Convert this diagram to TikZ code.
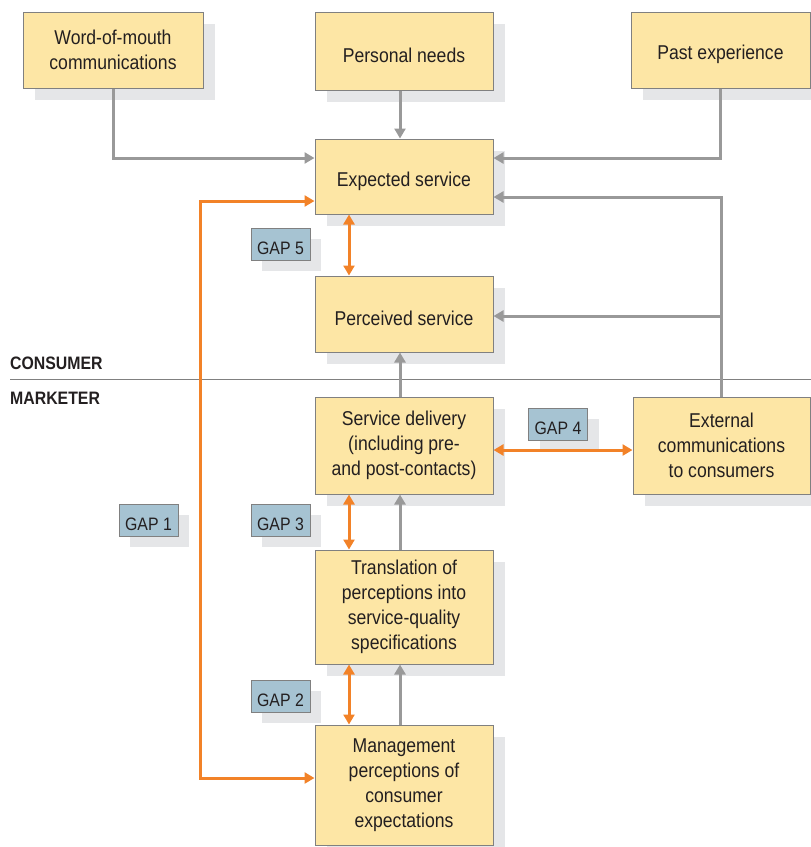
\documentclass[tikz,border=0pt]{standalone}
\usepackage{fontspec}
\setmainfont[FakeStretch=0.88]{Liberation Sans}
\usetikzlibrary{arrows.meta,calc,shadows}
\definecolor{boxfill}{RGB}{253,230,165}
\definecolor{boxline}{RGB}{128,128,128}
\definecolor{gapfill}{RGB}{166,195,210}
\definecolor{shadowc}{RGB}{229,230,232}
\definecolor{arrowgray}{RGB}{153,153,153}
\definecolor{orange1}{RGB}{242,130,40}
\definecolor{txt}{RGB}{35,31,32}
\begin{document}
\begin{tikzpicture}[x=1pt,y=-1pt,
  box/.style={draw=boxline, line width=1pt, fill=boxfill, text=txt, align=center,
    font=\fontsize{20}{25}\selectfont, inner sep=0pt,
    execute at begin node={\rule{0pt}{24pt}},
    general shadow={fill=shadowc, shadow xshift=12pt, shadow yshift=-12pt}},
  gap/.style={draw=boxline, line width=1pt, fill=gapfill, text=txt,
    font=\fontsize{18}{22}\selectfont, minimum width=59pt, minimum height=32pt, inner sep=0pt,
    execute at begin node={\rule{0pt}{21pt}},
    general shadow={fill=shadowc, shadow xshift=11pt, shadow yshift=-11pt}},
  side/.style={anchor=base west, inner sep=0pt, text=txt, font=\fontsize{18}{22}\selectfont\bfseries},
  garrow/.style={draw=arrowgray, line width=3pt, -{Triangle[width=11pt,length=10pt]}},
  oarrow/.style={draw=orange1, line width=3pt, {Triangle[width=11pt,length=10pt]}-{Triangle[width=11pt,length=10pt]}},
]
\useasboundingbox (0,0) rectangle (811,847);

% separator
\draw[boxline, line width=0.8pt] (10,379) coordinate (sepL) -- (811,379) coordinate (sepR);
\node[side] (consumer) at (10,369) {CONSUMER};
\node[side] (marketer) at (10,404) {MARKETER};

% boxes
\node[box, minimum width=180pt, minimum height=76pt] (wom) at (113,50) {Word-of-mouth\\communications};
\node[box, minimum width=178pt, minimum height=78pt] (pn) at (404,51) {Personal needs};
\node[box, minimum width=179pt, minimum height=76pt] (pe) at (720.5,50) {Past experience};
\node[box, minimum width=178pt, minimum height=75pt] (exp) at (404,176.5) {Expected service};
\node[box, minimum width=178pt, minimum height=76pt] (per) at (404,314) {Perceived service};
\node[box, minimum width=178pt, minimum height=97pt] (sd) at (404,445.5) {Service delivery\\(including pre-\\and post-contacts)};
\node[box, minimum width=177pt, minimum height=97pt] (ext) at (721.5,445.5) {External\\communications\\to consumers};
\node[box, minimum width=178pt, minimum height=114pt] (tr) at (404,607) {Translation of\\perceptions into\\service-quality\\specifications};
\node[box, minimum width=178pt, minimum height=120pt] (mg) at (404,785) {Management\\perceptions of\\consumer\\expectations};

% gap labels
\node[gap] (g5) at (280.5,244) {GAP 5};
\node[gap] (g4) at (558,424) {GAP 4};
\node[gap] (g1) at (148.5,520) {GAP 1};
\node[gap] (g3) at (280.5,520) {GAP 3};
\node[gap] (g2) at (280.5,696) {GAP 2};

% gray connectors
\draw[garrow] (wom.south) |- ($(exp.west)+(0,-18.5)$);
\draw[garrow] ($(pn.south)+(-4,0)$) -- ($(exp.north)+(-4,0)$);
\draw[garrow] (pe.south) |- ($(exp.east)+(0,-18.5)$);
\draw[garrow] (ext.north) |- ($(exp.east)+(0,20.5)$);
\coordinate (branch) at (ext.north |- per.east);
\draw[garrow] ($(branch)+(0,2)$) -- ($(per.east)+(0,2)$);
\draw[garrow] ($(sd.north)+(-4,0)$) -- ($(per.south)+(-4,0)$);
\draw[garrow] ($(tr.north)+(-4,0)$) -- ($(sd.south)+(-4,0)$);
\draw[garrow] ($(mg.north)+(-4,0)$) -- ($(tr.south)+(-4,0)$);

% orange gap arrows
\draw[oarrow] ($(exp.west)+(0,24.5)$) -- ++(-114,0) |- ($(mg.west)+(0,-7)$);
\draw[oarrow] ($(exp.south)+(-55,0)$) -- ($(per.north)+(-55,0)$);
\draw[oarrow] ($(sd.south)+(-55,0)$) -- ($(tr.north)+(-55,0)$);
\draw[oarrow] ($(tr.south)+(-55,0)$) -- ($(mg.north)+(-55,0)$);
\draw[oarrow] ($(sd.east)+(0,4.5)$) -- ($(ext.west)+(0,4.5)$);
\end{tikzpicture}
\end{document}
